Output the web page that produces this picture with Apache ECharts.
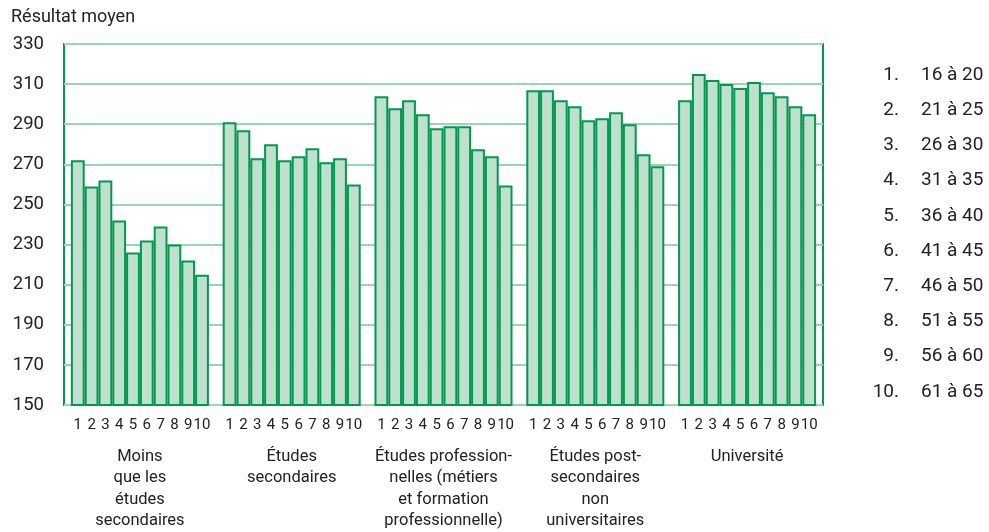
<!DOCTYPE html>
<html>
<head>
<meta charset="utf-8">
<script src="https://cdn.jsdelivr.net/npm/echarts@6/dist/echarts.min.js"></script>
<style>
  html, body { margin: 0; padding: 0; background: #fff; }
  #chart { width: 989px; height: 532px; }
</style>
</head>
<body>
<div id="chart"></div>
<script>
const FONT = "'Liberation Sans Narrow', 'Roboto', 'Liberation Sans', sans-serif";

const groupNames = [
  "Moins\nque les\nétudes\nsecondaires",
  "Études\nsecondaires",
  "Études profession-\nnelles (métiers\net formation\nprofessionnelle)",
  "Études post-\nsecondaires\nnon\nuniversitaires",
  "Université"
];
const ageNumbers = ["1", "2", "3", "4", "5", "6", "7", "8", "9", "10"];
const ageRanges = ["16 à 20", "21 à 25", "26 à 30", "31 à 35", "36 à 40",
                   "41 à 45", "46 à 50", "51 à 55", "56 à 60", "61 à 65"];

const moins = [272, 259, 262, 242, 226, 232, 239, 230, 222, 215];
const secondaires = [291, 287, 273, 280, 272, 274, 278, 271, 273, 260];
const professionnelles = [304, 298, 302, 295, 288, 289, 289, 277.5, 274, 259.5];
const postSecondaires = [307, 307, 302, 299, 292, 293, 296, 290, 275, 269];
const universite = [302, 315, 312, 310, 308, 311, 306, 304, 299, 295];

const yTicks = { min: 150, max: 330, interval: 20 };

// build flat category list: pad, group, gap, group, ... , pad
const groups = [moins, secondaires, professionnelles, postSecondaires, universite];
const cats = [""];
const values = ["-"];
groups.forEach((g, gi) => {
  if (gi > 0) { cats.push(""); values.push("-"); }
  g.forEach((v, i) => { cats.push(ageNumbers[i]); values.push(v); });
});
cats.push(""); values.push("-");

const legendItems = [];
ageRanges.forEach((r, i) => {
  const y = 76.5 + i * 35.2;
  legendItems.push({
    type: "text", right: 90, top: y - 11,
    style: { text: ageNumbers[i] + ".", font: "19px " + FONT, fill: "#222", textAlign: "right" }
  });
  legendItems.push({
    type: "text", left: 921, top: y - 11,
    style: { text: r, font: "19px " + FONT, fill: "#222" }
  });
});

const chart = echarts.init(document.getElementById("chart"));
chart.setOption({
  animation: false,
  textStyle: { fontFamily: FONT },
  grid: {
    left: 64, right: 166, top: 44, bottom: 127,
    show: true, borderColor: "#00994f", borderWidth: 2, backgroundColor: "transparent"
  },
  graphic: [
    {
      type: "text", left: 11, top: 8,
      style: { text: "Résultat moyen", font: "18px " + FONT, fill: "#222" }
    }
  ].concat(legendItems),
  xAxis: [
    {
      type: "category",
      data: cats,
      boundaryGap: false,
      axisLine: { show: false },
      axisTick: { show: false },
      axisLabel: { interval: 0, color: "#222", fontSize: 15, margin: 13 },
      splitLine: { show: false }
    },
    {
      type: "category",
      position: "bottom",
      data: groupNames,
      boundaryGap: true,
      axisLine: { show: false },
      axisTick: { show: false },
      axisLabel: { interval: 0, color: "#222", fontSize: 16.5, lineHeight: 21.5, margin: 41, verticalAlign: "top" },
      splitLine: { show: false }
    }
  ],
  yAxis: {
    type: "value",
    min: yTicks.min, max: yTicks.max, interval: yTicks.interval,
    axisLine: { show: false },
    axisTick: { show: false },
    axisLabel: { color: "#222", fontSize: 18.5, margin: 20 },
    splitLine: { show: true, lineStyle: { color: "#9dd4b3", width: 2 } }
  },
  series: [
    {
      type: "bar",
      xAxisIndex: 0,
      data: values,
      barWidth: "100%",
      itemStyle: { color: "#bfe0cc", borderColor: "#00994f", borderWidth: 2 }
    }
  ]
});
</script>
</body>
</html>
